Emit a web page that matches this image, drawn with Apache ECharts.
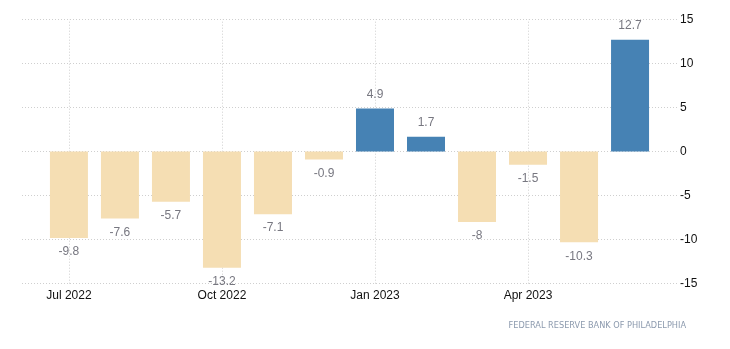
<!DOCTYPE html>
<html>
<head>
<meta charset="utf-8">
<script src="https://cdn.jsdelivr.net/npm/echarts@6/dist/echarts.min.js"></script>
<style>
  html, body { margin: 0; padding: 0; background: #fff; }
  #chart { width: 730px; height: 349px; }
</style>
</head>
<body>
<div id="chart"></div>
<script>
// Monthly index readings, Jul 2022 – Jun 2023
const months = ['Jul 2022', 'Aug 2022', 'Sep 2022', 'Oct 2022', 'Nov 2022', 'Dec 2022',
                'Jan 2023', 'Feb 2023', 'Mar 2023', 'Apr 2023', 'May 2023', 'Jun 2023'];
const values = [-9.8, -7.6, -5.7, -13.2, -7.1, -0.9, 4.9, 1.7, -8, -1.5, -10.3, 12.7];
const labeledMonths = ['Jul 2022', 'Oct 2022', 'Jan 2023', 'Apr 2023'];
const yTicks = [-15, -10, -5, 0, 5, 10, 15];
const sourceText = 'FEDERAL RESERVE BANK OF PHILADELPHIA';

const POS = '#4682b4';
const NEG = '#f5deb3';

const labeledIdx = labeledMonths.map(m => months.indexOf(m));

const chart = echarts.init(document.getElementById('chart'));

chart.setOption({
  animation: false,
  grid: { left: 22, right: 52, top: 19.5, bottom: 65.3, containLabel: false },
  xAxis: {
    type: 'value',
    min: -0.92,
    max: 11.94,
    axisLine: { show: false },
    axisTick: { show: false, customValues: labeledIdx },
    axisLabel: {
      customValues: labeledIdx,
      formatter: v => months[Math.round(v)] || '',
      color: '#111',
      fontFamily: 'Liberation Sans, Arial, sans-serif',
      fontSize: 12,
      margin: 6
    },
    splitLine: { show: false }
  },
  yAxis: {
    type: 'value',
    position: 'right',
    min: yTicks[0],
    max: yTicks[yTicks.length - 1],
    interval: 5,
    axisLine: { show: false },
    axisTick: { show: false },
    axisLabel: {
      color: '#111',
      fontFamily: 'Liberation Sans, Arial, sans-serif',
      fontSize: 12,
      margin: 2
    },
    splitLine: { lineStyle: { color: '#cfcfcf', type: [1, 2], width: 1 } }
  },
  series: [{
    type: 'bar',
    barWidth: 38,
    data: values.map((v, i) => ({
      value: [i, v],
      itemStyle: { color: v >= 0 ? POS : NEG },
      label: { position: v >= 0 ? 'top' : 'bottom' }
    })),
    label: {
      show: true,
      distance: 8,
      color: '#777780',
      fontFamily: 'Liberation Sans, Arial, sans-serif',
      fontSize: 12,
      formatter: p => String(p.value[1])
    },
    markLine: {
      silent: true,
      symbol: 'none',
      label: { show: false },
      lineStyle: { color: '#cfcfcf', type: [1, 2], width: 1 },
      data: labeledIdx.map(i => ({ xAxis: i })),
      z: 0
    },
    z: 2
  }],
  graphic: [{
    type: 'text',
    right: 44,
    top: 322,
    style: {
      text: sourceText,
      fill: '#8c9aae',
      font: '8.2px "DejaVu Sans", sans-serif'
    }
  }]
});
</script>
</body>
</html>
